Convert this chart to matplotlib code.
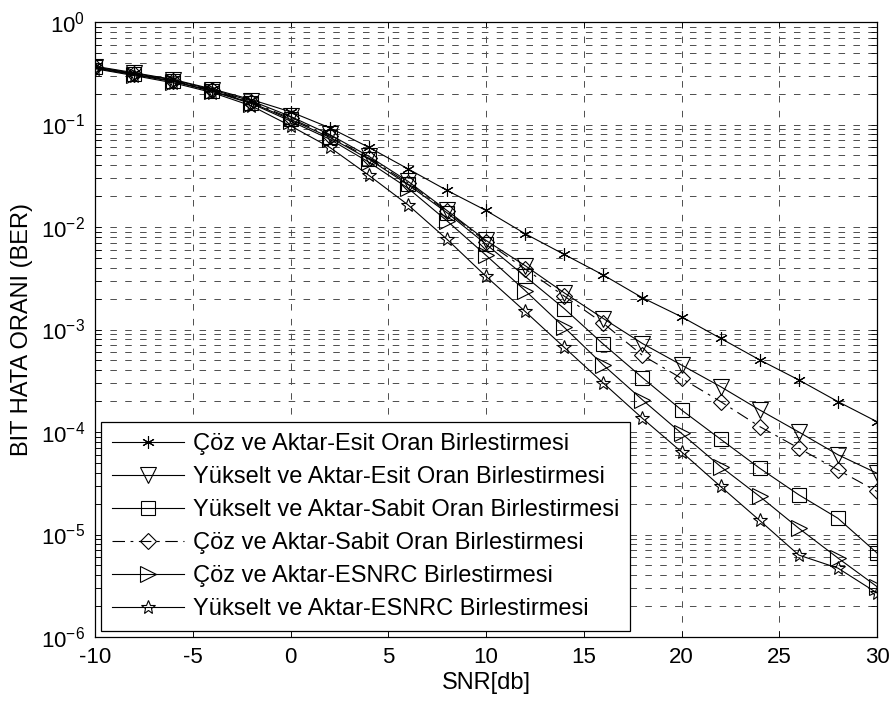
import matplotlib
matplotlib.use("Agg")
import matplotlib.pyplot as plt
from matplotlib.ticker import NullFormatter

plt.rcParams['font.family'] = ['Liberation Sans', 'DejaVu Sans']
plt.rcParams['axes.unicode_minus'] = False
plt.rcParams['lines.scale_dashes'] = False

# SNR points (dB)
snr = [-10, -8, -6, -4, -2, 0, 2, 4, 6, 8, 10,
       12, 14, 16, 18, 20, 22, 24, 26, 28, 30]

# BER curves
ber_caz_esit = [0.37, 0.32, 0.275, 0.222, 0.175, 0.133, 0.093, 0.06, 0.037, 0.0228, 0.0145,
                0.0086, 0.0054, 0.0034, 0.00204, 0.00133, 0.00082, 0.000505, 0.000322, 0.000198, 0.000126]
ber_yak_esit = [0.365, 0.315, 0.272, 0.218, 0.17, 0.12, 0.08, 0.049, 0.028, 0.0145, 0.0074,
                0.0042, 0.00228, 0.00128, 0.00073, 0.00045, 0.000277, 0.000164, 0.0001, 6.0e-5, 3.96e-5]
ber_yak_sabit = [0.36, 0.31, 0.265, 0.212, 0.163, 0.112, 0.075, 0.046, 0.026, 0.0138, 0.0068,
                 0.0033, 0.0016, 0.00072, 0.000339, 0.000164, 8.5e-5, 4.43e-5, 2.44e-5, 1.44e-5, 6.6e-6]
ber_caz_sabit = [0.36, 0.31, 0.268, 0.215, 0.166, 0.115, 0.077, 0.047, 0.027, 0.0142, 0.0072,
                 0.0039, 0.00212, 0.00115, 0.00056, 0.000334, 0.000198, 0.000113, 6.95e-5, 4.27e-5, 2.63e-5]
ber_caz_esnrc = [0.355, 0.305, 0.262, 0.21, 0.16, 0.108, 0.072, 0.043, 0.024, 0.0115, 0.0053,
                 0.0024, 0.00105, 0.00045, 0.000206, 9.7e-5, 4.6e-5, 2.35e-5, 1.15e-5, 5.9e-6, 3.1e-6]
ber_yak_esnrc = [0.35, 0.30, 0.255, 0.205, 0.152, 0.097, 0.06, 0.032, 0.0165, 0.0076, 0.0033,
                 0.0015, 0.00067, 0.0003, 0.000136, 6.4e-5, 2.94e-5, 1.37e-5, 6.3e-6, 4.7e-6, 2.69e-6]

labels = [
    "Çöz ve Aktar-Esit Oran Birlestirmesi",
    "Yükselt ve Aktar-Esit Oran Birlestirmesi",
    "Yükselt ve Aktar-Sabit Oran Birlestirmesi",
    "Çöz ve Aktar-Sabit Oran Birlestirmesi",
    "Çöz ve Aktar-ESNRC Birlestirmesi",
    "Yükselt ve Aktar-ESNRC Birlestirmesi",
]

x_ticks = [-10, -5, 0, 5, 10, 15, 20, 25, 30]


def plot_ber():
    fig = plt.figure(figsize=(8.93, 7.10), dpi=100)
    W, H = 893, 710
    ax = fig.add_axes([95 / W, 1 - 637 / H, (877 - 95) / W, (637 - 22) / H])

    curves = [ber_caz_esit, ber_yak_esit, ber_yak_sabit,
              ber_caz_sabit, ber_caz_esnrc, ber_yak_esnrc]
    # marker, size, line style for each curve (MATLAB-like look)
    styles = [((6, 2, 0), 9, '-'),
              ('v', 11, '-'),
              ('s', 10, '-'),
              ('D', 8.5, (0, (9, 4, 2, 4))),
              ('>', 11, '-'),
              ('*', 10, '-')]

    for ber, lab, (mk, ms, ls) in zip(curves, labels, styles):
        ax.semilogy(snr, ber, color='black', linestyle=ls, linewidth=0.8,
                    marker=mk, markersize=ms, markerfacecolor='none',
                    markeredgecolor='black', markeredgewidth=0.8, label=lab)

    ax.set_xlim(-10, 30)
    ax.set_ylim(1e-6, 1)
    ax.set_xticks(x_ticks)
    ax.set_xticklabels([str(t) for t in x_ticks])
    ax.yaxis.set_minor_formatter(NullFormatter())

    # dashed grid on major x and on major+minor y
    grid_kw = dict(color='0.3', linewidth=0.7, linestyle=(0, (4.7, 6.0)))
    ax.grid(True, which='major', axis='both', **grid_kw)
    ax.grid(True, which='minor', axis='y', **grid_kw)

    ax.tick_params(which='both', direction='in', top=True, right=True,
                   length=4.3, width=0.6, labelsize=16, pad=7)
    for sp in ax.spines.values():
        sp.set_linewidth(0.9)

    ax.set_xlabel("SNR[db]", fontsize=17, labelpad=3)
    ax.set_ylabel("BIT HATA ORANI (BER)", fontsize=17, labelpad=6)

    leg = ax.legend(loc='lower left', bbox_to_anchor=(6 / 782, 6 / 615),
                    borderaxespad=0, fontsize=17, fancybox=False,
                    framealpha=1, edgecolor='black', handlelength=3.05,
                    handletextpad=0.4, borderpad=0.45, labelspacing=0.47)
    leg.get_frame().set_linewidth(0.9)

    fig.savefig('out.png', dpi=100)
    plt.close(fig)


if __name__ == "__main__":
    plot_ber()
